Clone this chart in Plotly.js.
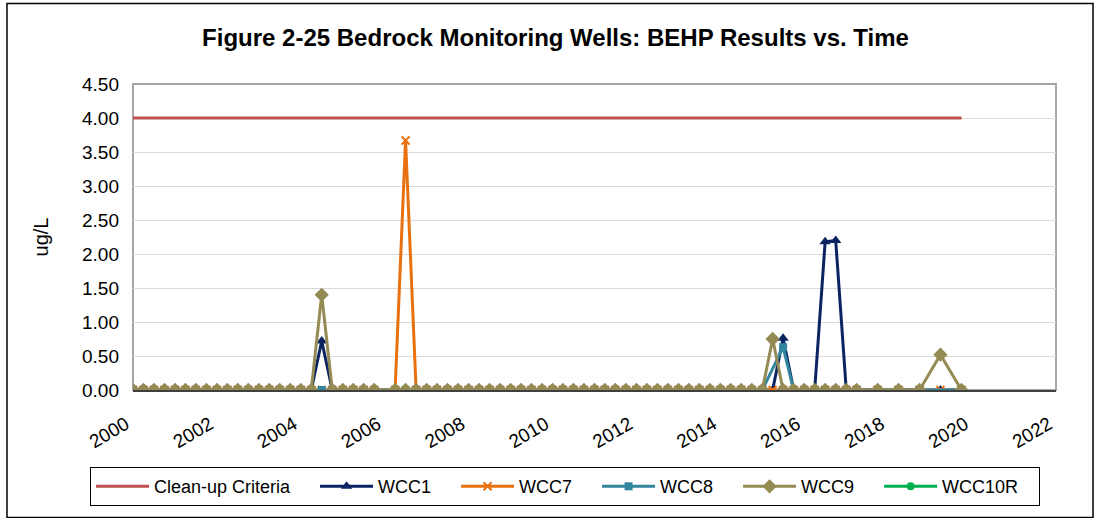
<!DOCTYPE html>
<html>
<head>
<meta charset="utf-8">
<script src="https://cdn.plot.ly/plotly-3.0.1.min.js"></script>
<style>
  html, body { margin: 0; padding: 0; background: #ffffff; }
  #chart { width: 1100px; height: 518px; }
</style>
</head>
<body>
<div id="chart"></div>
<script>
// Sample dates (shared by all wells)
const sampleDates = [
  "2000-01-01","2000-04-01","2000-07-01","2000-10-01",
  "2001-01-01","2001-04-01","2001-07-01","2001-10-01",
  "2002-01-01","2002-04-01","2002-07-01","2002-10-01",
  "2003-01-01","2003-04-01","2003-07-01","2003-10-01",
  "2004-01-01","2004-04-01","2004-07-01","2004-10-01",
  "2005-01-01","2005-04-01","2005-07-01","2005-10-01",
  "2006-04-01","2006-07-01","2006-10-01",
  "2007-01-01","2007-04-01","2007-07-01","2007-10-01",
  "2008-01-01","2008-04-01","2008-07-01","2008-10-01",
  "2009-01-01","2009-04-01","2009-07-01","2009-10-01",
  "2010-01-01","2010-04-01","2010-07-01","2010-10-01",
  "2011-01-01","2011-04-01","2011-07-01","2011-10-01",
  "2012-01-01","2012-04-01","2012-07-01","2012-10-01",
  "2013-01-01","2013-04-01","2013-07-01","2013-10-01",
  "2014-01-01","2014-04-01","2014-07-01","2014-10-01",
  "2015-01-01","2015-04-01","2015-07-01","2015-10-01",
  "2016-01-01","2016-04-01","2016-07-01","2016-10-01",
  "2017-01-01","2017-04-01",
  "2017-10-01","2018-04-01","2018-10-01","2019-04-01","2019-10-01"
];

// One row per year (2006: Apr, Jul, Oct; 2017: Jan, Apr, Oct; 2018/2019: Apr, Oct)
const wcc1 = [
  0,0,0,0,   // 2000
  0,0,0,0,   // 2001
  0,0,0,0,   // 2002
  0,0,0,0,   // 2003
  0,0,0.72,0,// 2004
  0,0,0,0,   // 2005
  0,0,0,     // 2006
  0,0,0,0,   // 2007
  0,0,0,0,   // 2008
  0,0,0,0,   // 2009
  0,0,0,0,   // 2010
  0,0,0,0,   // 2011
  0,0,0,0,   // 2012
  0,0,0,0,   // 2013
  0,0,0,0,   // 2014
  0,0,0.76,0,// 2015
  0,0,2.18,2.20, // 2016
  0,0,0,     // 2017
  0,0,       // 2018
  0,0        // 2019
];
const wcc7 = [
  0,0,0,0,   // 2000
  0,0,0,0,   // 2001
  0,0,0,0,   // 2002
  0,0,0,0,   // 2003
  0,0,0,0,   // 2004
  0,0,0,0,   // 2005
  0,3.67,0,  // 2006
  0,0,0,0,   // 2007
  0,0,0,0,   // 2008
  0,0,0,0,   // 2009
  0,0,0,0,   // 2010
  0,0,0,0,   // 2011
  0,0,0,0,   // 2012
  0,0,0,0,   // 2013
  0,0,0,0,   // 2014
  0,0,0,0,   // 2015
  0,0,0,0,   // 2016
  0,0,0,     // 2017
  0,0,       // 2018
  0,0        // 2019
];
const wcc8 = [
  0,0,0,0,   // 2000
  0,0,0,0,   // 2001
  0,0,0,0,   // 2002
  0,0,0,0,   // 2003
  0,0,0,0,   // 2004
  0,0,0,0,   // 2005
  0,0,0,     // 2006
  0,0,0,0,   // 2007
  0,0,0,0,   // 2008
  0,0,0,0,   // 2009
  0,0,0,0,   // 2010
  0,0,0,0,   // 2011
  0,0,0,0,   // 2012
  0,0,0,0,   // 2013
  0,0,0,0,   // 2014
  0,null,0.63,0, // 2015
  0,0,0,0,   // 2016
  0,0,0,     // 2017
  0,0,       // 2018
  null,0     // 2019
];
const wcc9 = [
  0,0,0,0,   // 2000
  0,0,0,0,   // 2001
  0,0,0,0,   // 2002
  0,0,0,0,   // 2003
  0,0,1.40,0,// 2004
  0,0,0,0,   // 2005
  0,0,0,     // 2006
  0,0,0,0,   // 2007
  0,0,0,0,   // 2008
  0,0,0,0,   // 2009
  0,0,0,0,   // 2010
  0,0,0,0,   // 2011
  0,0,0,0,   // 2012
  0,0,0,0,   // 2013
  0,0,0,0,   // 2014
  0,0.75,0,0,// 2015
  0,0,0,0,   // 2016
  0,0,0,     // 2017
  0,0,       // 2018
  0.52,0     // 2019
];
// WCC10R: no results visible in the charted period
const wcc10rDates = [null];
const wcc10r = [null];

const criteriaDates = ["2000-01-01", "2019-10-01"];
const criteriaValues = [4.0, 4.0];

const seriesNames = ["Clean-up Criteria", "WCC1", "WCC7", "WCC8", "WCC9", "WCC10R"];
const yTickVals = [0, 0.5, 1.0, 1.5, 2.0, 2.5, 3.0, 3.5, 4.0, 4.5];

const pad = n => "\u00a0".repeat(n);
const PADN = 4;

const traces = [
  {
    x: criteriaDates, y: criteriaValues, name: seriesNames[0] + pad(PADN),
    mode: "lines", line: { color: "#C0504D", width: 3 }
  },
  {
    x: sampleDates, y: wcc1, name: seriesNames[1] + pad(PADN),
    mode: "lines+markers", connectgaps: true,
    line: { color: "#0B2461", width: 3 },
    marker: { symbol: "triangle-up", size: 10, color: "#0B2461" }
  },
  {
    x: sampleDates, y: wcc7, name: seriesNames[2] + pad(PADN),
    mode: "lines+markers", connectgaps: true,
    line: { color: "#E8700F", width: 3 },
    marker: { symbol: "x-thin-open", size: 8, color: "#E8700F", line: { color: "#E8700F", width: 2 } }
  },
  {
    x: sampleDates, y: wcc8, name: seriesNames[3] + pad(PADN),
    mode: "lines+markers", connectgaps: true,
    line: { color: "#31859C", width: 3 },
    marker: { symbol: "square", size: 8, color: "#31859C" }
  },
  {
    x: sampleDates, y: wcc9, name: seriesNames[4] + pad(PADN),
    mode: "lines+markers", connectgaps: true,
    line: { color: "#948A54", width: 3 },
    marker: { symbol: "diamond", size: 11, color: "#948A54" }
  },
  {
    x: wcc10rDates, y: wcc10r, name: seriesNames[5] + pad(3),
    mode: "lines+markers",
    line: { color: "#00B050", width: 3 },
    marker: { symbol: "circle", size: 8, color: "#00B050" }
  }
];

const layout = {
  width: 1100, height: 518,
  paper_bgcolor: "#ffffff", plot_bgcolor: "#ffffff",
  margin: { l: 133, r: 44, t: 84, b: 122 },
  font: { family: "Liberation Sans, Arial, sans-serif", color: "#000000" },
  title: {
    text: "<b>Figure 2-25 Bedrock Monitoring Wells: BEHP Results vs. Time</b>",
    font: { size: 24, family: "Liberation Sans, Arial, sans-serif", color: "#000000" },
    x: 0.505, xanchor: "center", y: 0.927, yanchor: "middle"
  },
  xaxis: {
    type: "date",
    range: ["2000-01-01", "2022-01-01"],
    tick0: "2000-01-01", dtick: "M24", tickformat: "%Y",
    tickangle: -30,
    tickfont: { size: 19 },
    ticklabelstandoff: 14,
    ticklabelshift: -7,
    showgrid: false, zeroline: false,
    showline: true, linecolor: "#404040", linewidth: 2,
    ticks: "", fixedrange: true
  },
  yaxis: {
    range: [0, 4.5],
    tickvals: yTickVals, tickformat: ".2f",
    tickfont: { size: 19 },
    ticklabelstandoff: 13,
    title: { text: "ug/L", font: { size: 20 }, standoff: 28 },
    showgrid: true, gridcolor: "#D9D9D9", gridwidth: 1,
    zeroline: false, showline: false, ticks: "", fixedrange: true
  },
  legend: {
    orientation: "h",
    x: -0.0466, xanchor: "left",
    y: -0.252, yanchor: "top",
    bordercolor: "#000000", borderwidth: 1,
    font: { size: 18 },
    itemwidth: 53,
    traceorder: "normal"
  },
  shapes: [
    { type: "rect", xref: "paper", yref: "paper", x0: 0, x1: 1, y0: 0, y1: 1,
      line: { color: "#A6A6A6", width: 2 }, layer: "below" },
    { type: "rect", xref: "paper", yref: "paper",
      x0: -126/923, x1: 1 + 37/923, y0: -130/312, y1: 1 + 82/312,
      line: { color: "#000000", width: 1.5 } }
  ],
  showlegend: true
};

Plotly.newPlot("chart", traces, layout, { displayModeBar: false, staticPlot: true });
</script>
</body>
</html>
